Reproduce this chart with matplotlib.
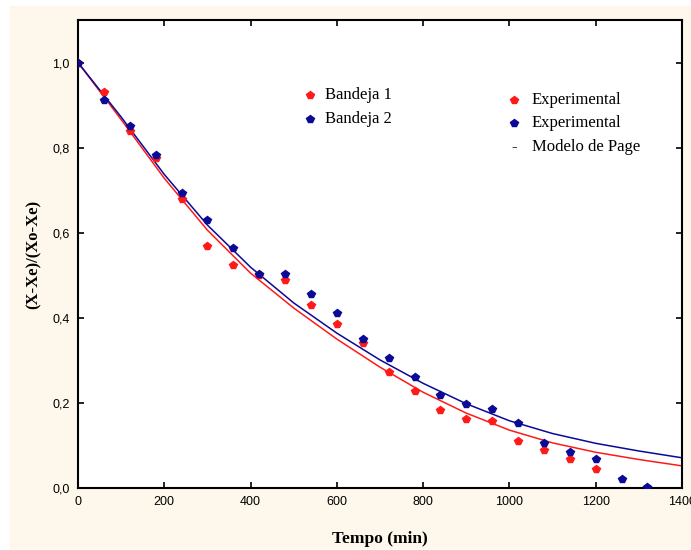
""" Curvas de secagem - Modelo de Page """

import matplotlib.pyplot as plt
from matplotlib.patches import Rectangle
from matplotlib.ticker import FuncFormatter


# dados experimentais (tempo em min, razao de umidade)
t_exp = [0, 60, 120, 180, 240, 300, 360, 420, 480, 540, 600, 660, 720,
         780, 840, 900, 960, 1020, 1080, 1140, 1200, 1260, 1320]
bandeja1 = [1.0, 0.930, 0.840, 0.775, 0.680, 0.568, 0.523, 0.500, 0.488,
            0.430, 0.385, 0.340, 0.272, 0.228, 0.183, 0.162, 0.158, 0.110,
            0.089, 0.067, 0.045]
bandeja2 = [1.0, 0.911, 0.850, 0.782, 0.693, 0.631, 0.563, 0.502, 0.502,
            0.455, 0.411, 0.350, 0.305, 0.261, 0.219, 0.197, 0.185, 0.153,
            0.106, 0.084, 0.068, 0.021, 0.002]

# curvas do modelo de Page
t_mod = [0, 100, 200, 300, 400, 500, 600, 700, 800, 900, 1000, 1100,
         1200, 1300, 1400]
page1 = [1.0, 0.866, 0.728, 0.606, 0.505, 0.423, 0.350, 0.284, 0.225,
         0.176, 0.136, 0.106, 0.084, 0.067, 0.052]
page2 = [1.0, 0.872, 0.737, 0.618, 0.519, 0.435, 0.364, 0.301, 0.246,
         0.198, 0.158, 0.128, 0.105, 0.087, 0.071]

vermelho = '#ff1a1a'
azul = '#0a0a96'
creme = '#fef8ec'

fig = plt.figure(figsize=(6.91, 5.5), dpi=100, facecolor='white')
# fundo creme da figura original
fig.patches.append(Rectangle((10 / 691, 2 / 550), 681 / 691, 542 / 550,
                             transform=fig.transFigure, color=creme,
                             zorder=-10))
ax = fig.add_axes([78 / 691, 1 - 488 / 550, 604 / 691, 468 / 550])
ax.set_facecolor('white')

ax.plot(t_mod, page1, color=vermelho, lw=1.1, zorder=2)
ax.plot(t_mod, page2, color=azul, lw=1.1, zorder=2)
ax.plot(t_exp[:len(bandeja1)], bandeja1, 'p', color=vermelho, ms=5.5,
        zorder=3)
ax.plot(t_exp[:len(bandeja2)], bandeja2, 'p', color=azul, ms=5.5, zorder=3)

ax.set_xlim(0, 1400)
ax.set_ylim(0, 1.1)
ax.set_xticks(range(0, 1401, 200))
ax.set_yticks([0, 0.2, 0.4, 0.6, 0.8, 1.0])
ax.yaxis.set_major_formatter(
    FuncFormatter(lambda v, p: ('%.1f' % v).replace('.', ',')))
ax.tick_params(direction='in', length=4, width=1.2, top=True, right=True,
               labelsize=9, pad=6)
for lab in ax.get_xticklabels() + ax.get_yticklabels():
    lab.set_fontfamily('Liberation Sans')
for s in ax.spines.values():
    s.set_linewidth(1.5)

ax.set_xlabel('Tempo (min)', family='Liberation Serif', weight='bold',
              fontsize=12.5, labelpad=16)
ax.set_ylabel('(X-Xe)/(Xo-Xe)', family='Liberation Serif', weight='bold',
              fontsize=12, labelpad=8)

# legenda desenhada como texto, como no original
fs = 12
ax.plot(538, 1.1 - 75 / 426, 'p', color=vermelho, ms=5.5)
ax.text(573, 1.1 - 75 / 426, 'Bandeja 1', family='Liberation Serif',
        fontsize=fs, va='center')
ax.plot(538, 1.1 - 99 / 426, 'p', color=azul, ms=5.5)
ax.text(573, 1.1 - 99 / 426, 'Bandeja 2', family='Liberation Serif',
        fontsize=fs, va='center')

ax.plot(1011, 1.1 - 80 / 426, 'p', color=vermelho, ms=5.5)
ax.text(1052, 1.1 - 80 / 426, 'Experimental', family='Liberation Serif',
        fontsize=fs, va='center')
ax.plot(1011, 1.1 - 103 / 426, 'p', color=azul, ms=5.5)
ax.text(1052, 1.1 - 103 / 426, 'Experimental', family='Liberation Serif',
        fontsize=fs, va='center')
ax.text(1011, 1.1 - 127 / 426, '-', family='Liberation Serif',
        fontsize=fs, va='center', ha='center')
ax.text(1052, 1.1 - 127 / 426, 'Modelo de Page', family='Liberation Serif',
        fontsize=fs, va='center')

fig.savefig('out.png', dpi=100, facecolor=fig.get_facecolor())
